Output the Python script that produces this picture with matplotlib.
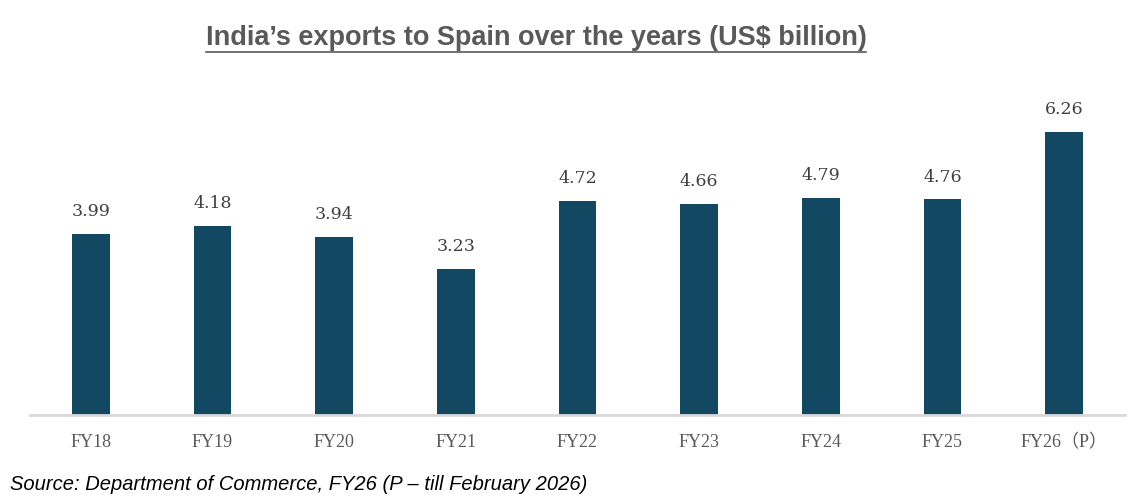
import numpy as np
import matplotlib.pyplot as plt

# Datos
years = ['FY18', 'FY19', 'FY20', 'FY21', 'FY22', 'FY23', 'FY24', 'FY25', 'FY26（P）']
exports = [3.99, 4.18, 3.94, 3.23, 4.72, 4.66, 4.79, 4.76, 6.26]

bar_color = '#124862'
serif = ['Liberation Serif', 'Noto Sans CJK SC', 'DejaVu Serif']

fig = plt.figure(figsize=(11.47, 5.04), dpi=100)
ax = fig.add_axes([30 / 1147, 89 / 504, 1095 / 1147, (415 - 89) / 504])

x = np.arange(len(years))
bars = ax.bar(x, exports, width=0.31, color=bar_color, zorder=2)

ax.set_xlim(-0.5, len(years) - 0.5)
ax.set_ylim(0, 7.2)

for b, v in zip(bars, exports):
    ax.annotate(f'{v:.2f}', (b.get_x() + b.get_width() / 2, v),
                xytext=(0, 10), textcoords='offset points',
                ha='center', va='bottom', fontsize=12.5, color='#404040',
                family=['DejaVu Serif'])

ax.set_xticks(x)
ax.set_xticklabels(years, family=serif, fontsize=13, color='#595959')
ax.tick_params(axis='x', length=0, pad=14)
ax.set_yticks([])

for s in ['top', 'right', 'left']:
    ax.spines[s].set_visible(False)
ax.spines['bottom'].set_color('#D9D9D9')
ax.spines['bottom'].set_linewidth(2)

# Titulo subrayado
t = fig.text(536 / 1147, 1 - 38 / 504, 'India’s exports to Spain over the years (US$ billion)',
             ha='center', va='center', fontsize=19.5, fontweight='bold',
             color='#595959', family=['Liberation Sans'])
fig.canvas.draw()
bb = t.get_window_extent()
fig.add_artist(plt.Line2D([bb.x0 / 1147, bb.x1 / 1147], [(bb.y0 - 1) / 504] * 2,
                          color='#595959', lw=1.2))

fig.text(10 / 1147, 1 - 485 / 504, 'Source: Department of Commerce, FY26 (P – till February 2026)',
         ha='left', va='center', fontsize=14.5, style='italic', color='black',
         family='Liberation Sans')

fig.savefig('out.png', dpi=100)
